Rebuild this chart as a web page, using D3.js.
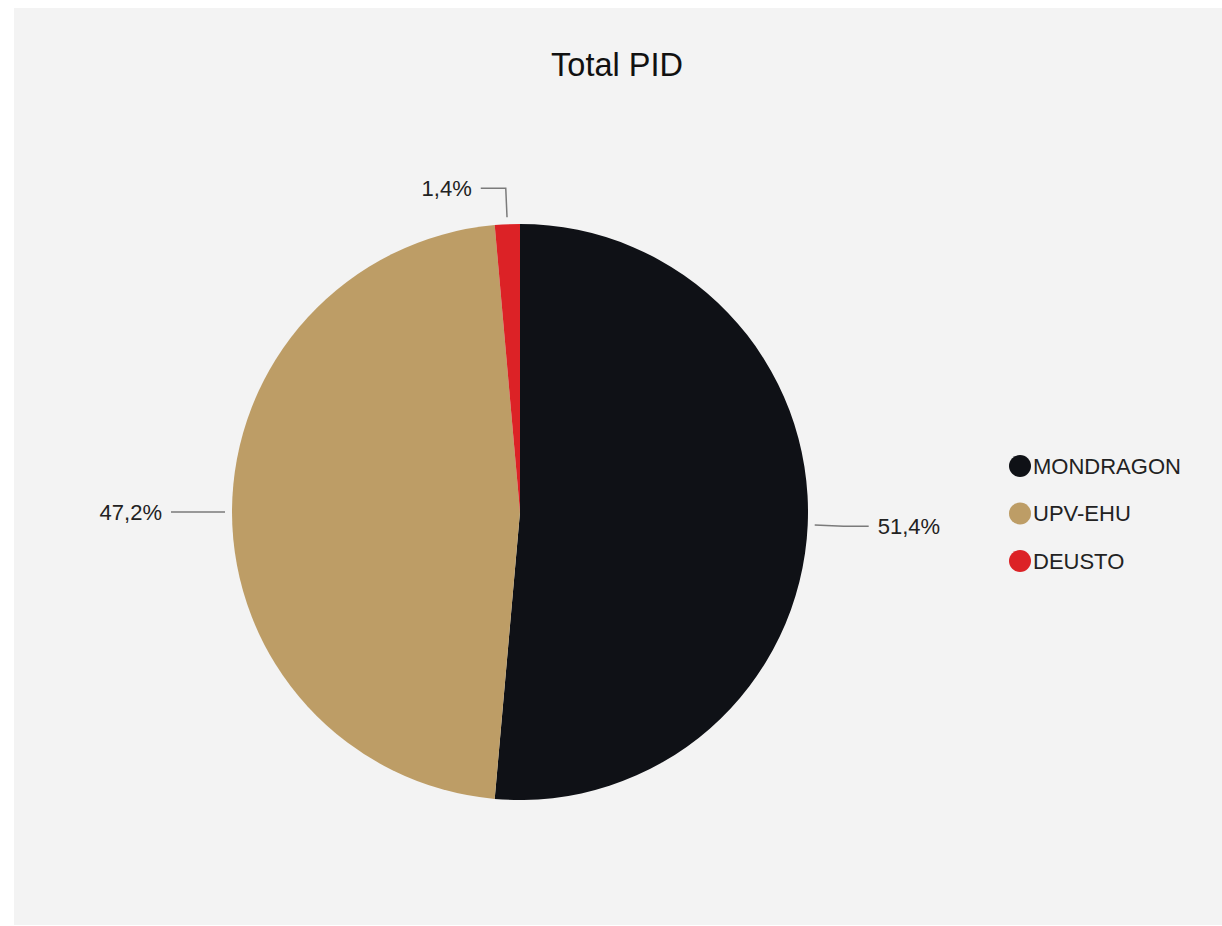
<!DOCTYPE html>
<html>
<head>
<meta charset="utf-8">
<script src="https://cdn.jsdelivr.net/npm/d3@7"></script>
<style>
  html, body { margin: 0; padding: 0; background: #ffffff; }
  svg { display: block; }
  text { font-family: "Liberation Sans", Arial, sans-serif; }
</style>
</head>
<body>
<svg id="chart" width="1222" height="926"></svg>
<script>
const title = "Total PID";
const categories = ["MONDRAGON", "UPV-EHU", "DEUSTO"];
const values = [51.4, 47.2, 1.4];
const colors = ["#0f1116", "#bd9d66", "#dc2226"];

const svg = d3.select("#chart");
const W = 1222, H = 926;

svg.append("rect")
  .attr("x", 14).attr("y", 8)
  .attr("width", W - 14).attr("height", H - 9)
  .attr("fill", "#f3f3f3");

svg.append("text")
  .attr("x", 617).attr("y", 76)
  .attr("text-anchor", "middle")
  .attr("font-size", 32.5)
  .attr("fill", "#111111")
  .text(title);

const cx = 520, cy = 512, r = 288;
const data = categories.map((c, i) => ({ name: c, value: values[i], color: colors[i] }));
const pie = d3.pie().value(d => d.value).sort(null);
const arcs = pie(data);
const arc = d3.arc().innerRadius(0).outerRadius(r);

const g = svg.append("g").attr("transform", `translate(${cx},${cy})`);

g.selectAll("path.slice")
  .data(arcs)
  .join("path")
  .attr("class", "slice")
  .attr("d", arc)
  .attr("fill", d => d.data.color);

const total = d3.sum(values);
const fmt = v => (v / total * 100).toFixed(1).replace(".", ",") + "%";

const arcStart = d3.arc().innerRadius(r + 7).outerRadius(r + 7);
const arcElbow = d3.arc().innerRadius(r + 36).outerRadius(r + 36);

arcs.forEach(d => {
  const p0 = arcStart.centroid(d);
  const p1 = arcElbow.centroid(d);
  const mid = (d.startAngle + d.endAngle) / 2;
  const right = mid < Math.PI;
  const p2 = [p1[0] + (right ? 25 : -25), p1[1]];
  g.append("polyline")
    .attr("points", [p0, p1, p2].map(p => p.join(",")).join(" "))
    .attr("fill", "none")
    .attr("stroke", "#7a7a7a")
    .attr("stroke-width", 1.5);
  g.append("text")
    .attr("x", p2[0] + (right ? 9 : -9))
    .attr("y", p2[1])
    .attr("dy", "0.36em")
    .attr("text-anchor", right ? "start" : "end")
    .attr("font-size", 22)
    .attr("fill", "#222222")
    .text(fmt(d.data.value));
});

const legend = svg.append("g");
const lg = legend.selectAll("g")
  .data(data)
  .join("g")
  .attr("transform", (d, i) => `translate(1020, ${466 + i * 47.5})`);
lg.append("circle")
  .attr("r", 11)
  .attr("fill", d => d.color);
lg.append("text")
  .attr("x", 13)
  .attr("dy", "0.36em")
  .attr("font-size", 22)
  .attr("fill", "#222222")
  .text(d => d.name);
</script>
</body>
</html>
